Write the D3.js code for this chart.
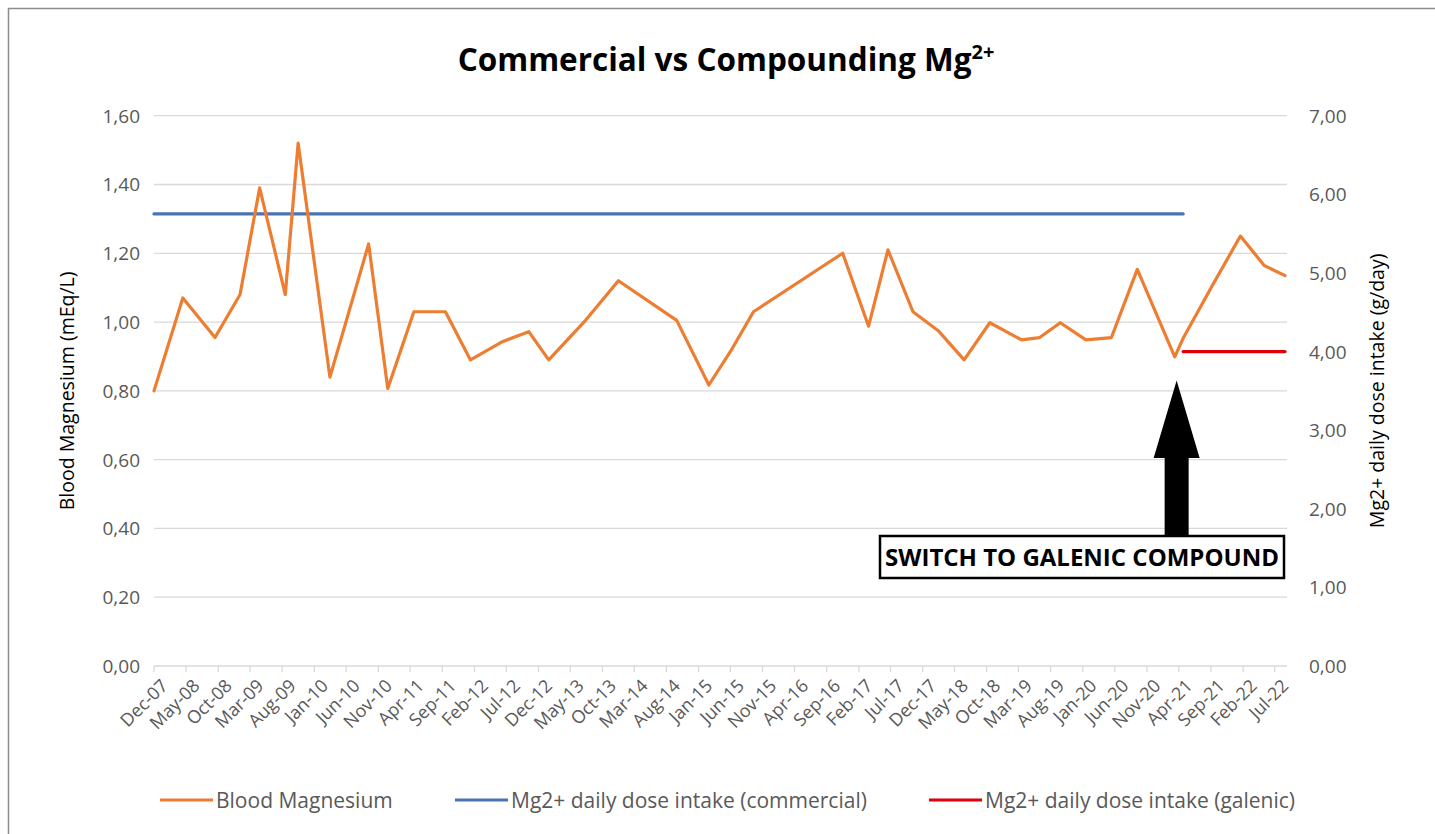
<!DOCTYPE html>
<html>
<head>
<meta charset="utf-8">
<script src="https://cdn.jsdelivr.net/npm/d3@7"></script>
<style>
  html, body { margin: 0; background: #fff; overflow: hidden; }
  svg { display: block; }
  svg text { font-family: "Open Sans", sans-serif; }
</style>
</head>
<body>
<svg id="chart" width="1435" height="834"></svg>
<script>
// blood magnesium samples (mEq/L)
const sampleDates = [
  "2007-12-01", "2008-04-16", "2008-09-16", "2009-01-13", "2009-04-16",
  "2009-08-16", "2009-10-16", "2010-03-16", "2010-09-16", "2010-12-16",
  "2011-04-19", "2011-09-16", "2012-01-13", "2012-06-13", "2012-10-16",
  "2013-01-19", "2013-07-13", "2013-12-16", "2014-09-19", "2015-02-19",
  "2015-06-10", "2015-09-19", "2016-11-16", "2017-03-19", "2017-06-19",
  "2017-10-16", "2018-02-13", "2018-06-16", "2018-10-16", "2019-03-16",
  "2019-06-10", "2019-09-16", "2020-01-16", "2020-05-16", "2020-09-16",
  "2021-03-13", "2021-04-22", "2021-09-13", "2022-01-19", "2022-05-13",
  "2022-08-19"
];
const bloodMg = [
  0.80, 1.07, 0.955, 1.08, 1.39,
  1.08, 1.52, 0.84, 1.227, 0.807,
  1.03, 1.03, 0.89, 0.943, 0.972,
  0.89, 1.005, 1.12, 1.005, 0.817,
  0.923, 1.03, 1.20, 0.988, 1.21,
  1.03, 0.975, 0.89, 0.998, 0.948,
  0.955, 0.998, 0.948, 0.955, 1.153,
  0.899, 0.953, 1.112, 1.25, 1.164,
  1.135
];

// daily dose (g/day)
const commercialDates = ["2007-12-01", "2021-04-22"];
const commercialDose = [5.75, 5.75];
const galenicDates = ["2021-04-22", "2022-08-19"];
const galenicDose = [4.0, 4.0];

const switchDate = "2021-03-22";
const switchText = "SWITCH TO GALENIC COMPOUND";

const tickLabels = [
  "Dec-07", "May-08", "Oct-08", "Mar-09", "Aug-09", "Jan-10", "Jun-10", "Nov-10",
  "Apr-11", "Sep-11", "Feb-12", "Jul-12", "Dec-12", "May-13", "Oct-13", "Mar-14",
  "Aug-14", "Jan-15", "Jun-15", "Nov-15", "Apr-16", "Sep-16", "Feb-17", "Jul-17",
  "Dec-17", "May-18", "Oct-18", "Mar-19", "Aug-19", "Jan-20", "Jun-20", "Nov-20",
  "Apr-21", "Sep-21", "Feb-22", "Jul-22"
];
const leftTicks = [0, 0.2, 0.4, 0.6, 0.8, 1.0, 1.2, 1.4, 1.6];
const rightTicks = [0, 1, 2, 3, 4, 5, 6, 7];

const seriesNames = [
  "Blood Magnesium",
  "Mg2+ daily dose intake (commercial)",
  "Mg2+ daily dose intake (galenic)"
];
const seriesColors = ["#ed7d31", "#4a72b5", "#e0000b"];

const parseDay = d3.timeParse("%Y-%m-%d");
const parseTick = d3.timeParse("%b-%y");
const fmt = d => d.toFixed(2).replace(".", ",");

const margin = { top: 115.7, left: 154, right: 150, bottom: 168 };
const width = 1435, height = 834;

const svg = d3.select("#chart");

// chart frame (cut off at right/bottom like the screenshot)
svg.append("rect")
  .attr("x", 8.5).attr("y", 8.5)
  .attr("width", width + 20).attr("height", height + 20)
  .attr("fill", "none").attr("stroke", "#8c8c8c").attr("stroke-width", 1.5);

const x = d3.scaleTime()
  .domain(d3.extent(sampleDates, parseDay))
  .range([margin.left, width - margin.right]);
const yL = d3.scaleLinear().domain([0, 1.6]).range([height - margin.bottom, margin.top]);
const yR = d3.scaleLinear().domain([0, 7]).range([height - margin.bottom, margin.top]);

// gridlines
svg.append("g").selectAll("line")
  .data(leftTicks.slice(1))
  .join("line")
    .attr("x1", margin.left).attr("x2", x.range()[1] + 2)
    .attr("y1", d => yL(d)).attr("y2", d => yL(d))
    .attr("stroke", "#d9d9d9").attr("stroke-width", 1.3);

// left axis labels
svg.append("g").selectAll("text")
  .data(leftTicks)
  .join("text")
    .attr("x", 140).attr("y", d => yL(d) + 7)
    .attr("text-anchor", "end")
    .attr("font-size", 19).attr("fill", "#595959")
    .text(fmt);

// right axis labels
svg.append("g").selectAll("text")
  .data(rightTicks)
  .join("text")
    .attr("x", 1309).attr("y", d => yR(d) + 7)
    .attr("font-size", 19).attr("fill", "#595959")
    .text(fmt);

// x axis
const xAxis = svg.append("g");
xAxis.append("line")
  .attr("x1", margin.left).attr("x2", x.range()[1] + 2)
  .attr("y1", yL(0)).attr("y2", yL(0))
  .attr("stroke", "#d9d9d9").attr("stroke-width", 1.3);

const ticks = xAxis.selectAll("g.tick")
  .data(tickLabels)
  .join("g")
    .attr("class", "tick")
    .attr("transform", d => `translate(${x(parseTick(d))},${yL(0)})`);
ticks.append("line").attr("y2", 6).attr("stroke", "#d9d9d9").attr("stroke-width", 1.3);
ticks.append("text")
  .attr("transform", "translate(6,12) rotate(-45)")
  .attr("text-anchor", "end")
  .attr("dy", "0.7em")
  .attr("font-size", 18).attr("fill", "#595959")
  .text(d => d);

// axis titles
svg.append("text")
  .attr("transform", `translate(74,${(yL(0) + yL(1.6)) / 2}) rotate(-90)`)
  .attr("text-anchor", "middle")
  .attr("font-size", 19.5).attr("fill", "#000")
  .text("Blood Magnesium (mEq/L)");
svg.append("text")
  .attr("transform", `translate(1384,${(yL(0) + yL(1.6)) / 2}) rotate(-90)`)
  .attr("text-anchor", "middle")
  .attr("font-size", 19.5).attr("fill", "#000")
  .text("Mg2+ daily dose intake (g/day)");

// title
const title = svg.append("text")
  .attr("x", 726).attr("y", 71)
  .attr("text-anchor", "middle")
  .attr("font-size", 31.5).attr("font-weight", "bold").attr("fill", "#000");
title.append("tspan").text("Commercial vs Compounding Mg");
title.append("tspan").attr("font-size", 20).attr("dy", -12).text("2+");

// series
const lineL = d3.line().x(d => x(d[0])).y(d => yL(d[1]));
const lineR = d3.line().x(d => x(d[0])).y(d => yR(d[1]));

const zip = (ds, vs) => ds.map((d, i) => [parseDay(d), vs[i]]);

svg.append("path")
  .datum(zip(commercialDates, commercialDose))
  .attr("d", lineR)
  .attr("fill", "none").attr("stroke", seriesColors[1]).attr("stroke-width", 3.2)
  .attr("stroke-linecap", "round");
svg.append("path")
  .datum(zip(galenicDates, galenicDose))
  .attr("d", lineR)
  .attr("fill", "none").attr("stroke", seriesColors[2]).attr("stroke-width", 3.2)
  .attr("stroke-linecap", "round");
svg.append("path")
  .datum(zip(sampleDates, bloodMg))
  .attr("d", lineL)
  .attr("fill", "none").attr("stroke", seriesColors[0]).attr("stroke-width", 3.2)
  .attr("stroke-linejoin", "round").attr("stroke-linecap", "round");

// annotation: block arrow + label box
const ax = x(parseDay(switchDate));
const tipY = yL(0.83), headY = yL(0.605);
const boxTop = 536, boxBottom = 578;
svg.append("path")
  .attr("d", `M${ax},${tipY} L${ax + 23},${headY} L${ax + 12},${headY} L${ax + 12},${boxTop}
              L${ax - 12},${boxTop} L${ax - 12},${headY} L${ax - 23},${headY} Z`)
  .attr("fill", "#000");

const box = svg.append("g");
box.append("rect")
  .attr("x", 880).attr("y", boxTop)
  .attr("width", 1284 - 880).attr("height", boxBottom - boxTop)
  .attr("fill", "#fff").attr("stroke", "#000").attr("stroke-width", 2.5);
box.append("text")
  .attr("x", (880 + 1284) / 2).attr("y", boxBottom - 12)
  .attr("text-anchor", "middle")
  .attr("font-size", 24).attr("font-weight", "bold").attr("fill", "#000")
  .text(switchText);

// legend
const legendX = [160, 455, 929];
const legend = svg.append("g").selectAll("g")
  .data(seriesNames)
  .join("g")
    .attr("transform", (d, i) => `translate(${legendX[i]},800)`);
legend.append("line")
  .attr("x1", 0).attr("x2", 53)
  .attr("stroke", (d, i) => seriesColors[i]).attr("stroke-width", 3.2);
legend.append("text")
  .attr("x", 56).attr("y", 7.5)
  .attr("font-size", 21).attr("fill", "#595959")
  .text(d => d);
</script>
</body>
</html>
